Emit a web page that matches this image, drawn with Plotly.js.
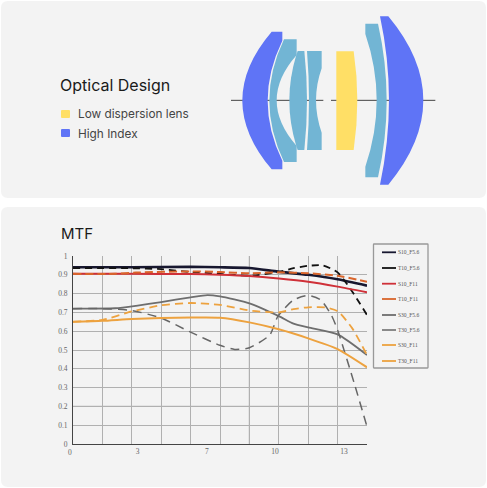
<!DOCTYPE html>
<html><head><meta charset="utf-8">
<script src="https://cdn.plot.ly/plotly-3.0.1.min.js"></script>
<style>html,body{margin:0;padding:0;background:#fff}#c{width:487px;height:488px}</style>
</head><body><div id="c"></div>
<script>
const seriesNames = ["S10_F5.6","T10_F5.6","S10_F11","T10_F11","S30_F5.6","T30_F5.6","S30_F11","T30_F11"];
const seriesColors = ["#17172f","#111111","#cf3038","#d9652b","#6e6e6e","#666666","#eda23f","#eda23f"];
const seriesWidths = [2.6,1.8,2,2,1.8,1.5,2,1.8];
const seriesDash = ["solid","7px,5px","solid","8px,4px","solid","9px,6px","solid","8px,5px"];

const s10f56x = [0,2.8,5.6,7,8.4,9.76,11.2,12.6,14];
const s10f56y = [0.94,0.94,0.942,0.94,0.936,0.917,0.90,0.876,0.842];
const t10f56x = [0,2.8,4.2,5.6,7,8.4,9.8,10.5,11.2,11.9,12.6,13.3,14];
const t10f56y = [0.935,0.935,0.93,0.915,0.905,0.895,0.915,0.935,0.948,0.95,0.913,0.81,0.686];
const s10f11x = [0,2.8,5.6,7,8.4,9.8,11.2,12.6,14];
const s10f11y = [0.905,0.905,0.904,0.90,0.893,0.88,0.863,0.837,0.807];
const t10f11x = [0,2,3,5.6,7,8.4,9.8,11.2,12.6,14];
const t10f11y = [0.905,0.905,0.912,0.918,0.915,0.908,0.913,0.908,0.895,0.863];
const s30f56x = [0,2,3,4.2,5.6,6.4,7,8.4,9.8,10.5,11.2,12.6,14];
const s30f56y = [0.72,0.722,0.735,0.755,0.78,0.792,0.785,0.748,0.68,0.64,0.62,0.583,0.473];
const t30f56x = [0,1.4,2.8,4.2,5.6,7,7.7,8.4,9.37,9.76,10.5,11.2,11.8,12.3,12.6,13.4,14];
const t30f56y = [0.72,0.72,0.71,0.67,0.595,0.525,0.503,0.512,0.58,0.68,0.766,0.79,0.766,0.686,0.606,0.32,0.092];
const s30f11x = [0,1.4,2.8,4.2,5.6,7,8.4,9.8,11.2,12.6,14];
const s30f11y = [0.65,0.655,0.665,0.67,0.673,0.672,0.647,0.61,0.562,0.505,0.408];
const t30f11x = [0,1.4,2.8,4.2,5.6,7,8.4,9.8,10.5,11.2,12,12.6,13.3,14];
const t30f11y = [0.65,0.66,0.705,0.738,0.75,0.74,0.71,0.70,0.718,0.727,0.727,0.707,0.615,0.473];

const yTicks = [0,0.1,0.2,0.3,0.4,0.5,0.6,0.7,0.8,0.9,1];
const xGrid = [0,1.4,2.8,4.2,5.6,7,8.4,9.8,11.2,12.6,14];
const xLabelPos = [3.08,6.38,9.62,12.9];
const xLabelText = ["3","7","10","13"];
const W = 487, H = 488;

const xs = [s10f56x,t10f56x,s10f11x,t10f11x,s30f56x,t30f56x,s30f11x,t30f11x];
const ys = [s10f56y,t10f56y,s10f11y,t10f11y,s30f56y,t30f56y,s30f11y,t30f11y];
const traces = seriesNames.map((n,i)=>({
  x:xs[i], y:ys[i], name:n, type:'scatter', mode:'lines', showlegend:false, hoverinfo:'skip',
  line:{color:seriesColors[i],width:seriesWidths[i],dash:seriesDash[i],shape:'spline',smoothing:0.6}
}));

const px = s => s.replace(/(-?[\d.]+),(-?[\d.]+)/g,(m,a,b)=>(a/W)+','+(1-b/H));
const zp = s => px(s.replace(/(-?[\d.]+),(-?[\d.]+)/g,(m,a,b)=>(220+a/3)+','+(10+b/3)));
const rr = (x0,y0,x1,y1,r)=>`M${x0+r},${y0} L${x1-r},${y0} Q${x1},${y0} ${x1},${y0+r} L${x1},${y1-r} Q${x1},${y1} ${x1-r},${y1} L${x0+r},${y1} Q${x0},${y1} ${x0},${y1-r} L${x0},${y0+r} Q${x0},${y0} ${x0+r},${y0} Z`;
const shapeP = (path,fill,lc,lw)=>({type:'path',xref:'paper',yref:'paper',layer:'below',path,fillcolor:fill,line:{color:lc||fill,width:lw==null?0:lw}});
const BLUE='#5f74f6', LIGHT='#72b5d4', YEL='#ffdf66', PANEL='#f3f3f3';
const lenses = [
 ["M155,65 L187,65 L187,92 Q99,272 187,452 L187,478 L155,478 Q-21,271 155,65 Z",BLUE],
 ["M192,88 L230,88 L230,135 Q110,271 230,408 L230,456 L192,456 Q104,272 192,88 Z",LIGHT],
 ["M233,123 L253,123 Q269,271 253,420 L233,420 L228,405 Q188,271 228,138 Z",LIGHT],
 ["M261,123 L305,123 L305,175 Q271,271 305,368 L305,420 L261,420 Q273,271 261,123 Z",LIGHT],
 ["M349,124 L401,124 Q423,271 401,420 L349,420 Z",YEL],
 ["M436,41 L474,41 Q526,271 474,502 L436,502 L436,470 Q504,271 436,72 Z",LIGHT],
 ["M480,19 L505,19 Q715,271 505,524 L480,524 Q534,271 480,19 Z",BLUE]
];
const shapes = [
 shapeP(px(rr(1,1,486,198,7)),PANEL),
 shapeP(px(rr(1,207,486,487,7)),PANEL),
 shapeP(px(rr(61,110,70,118,1)),YEL),
 shapeP(px(rr(61,129,70,137,1)),BLUE),
 shapeP(zp("M33,271 L310,271"),'rgba(0,0,0,0)','#444',1),
 shapeP(zp("M333,271 L646,271"),'rgba(0,0,0,0)','#444',1),
 ...lenses.map(l=>shapeP(zp(l[0]),l[1])),
 {type:'line',xref:'x',yref:'y',x0:8.4,x1:8.4,y0:0,y1:1,layer:'below',line:{color:'#666',width:1}},
 {type:'line',xref:'x',yref:'y',x0:0,x1:14,y0:0.2,y1:0.2,layer:'below',line:{color:'#666',width:1}},
 shapeP(px(rr(373.5,244,428,368,0.5)),PANEL,'#999',1.3)
];
const legendY=[252.3,268,283.7,299,315,330,345,361];
const annotations=[];
const txt=(x,y,t,size,color,family)=>({xref:'paper',yref:'paper',x:x/W,y:1-y/H,text:t,showarrow:false,xanchor:'left',yanchor:'middle',align:'left',font:{size,color,family},borderpad:0});
const SANS='Inter, "Noto Sans", sans-serif', SERIF='"Liberation Serif", serif';
annotations.push(txt(59,85,'Optical Design',16,'#1a1a1a',SANS));
annotations.push(txt(77,114.5,'Low dispersion lens',11.8,'#444',SANS));
annotations.push(txt(77,134,'High Index',11.8,'#444',SANS));
annotations.push(txt(60,233,'MTF',15,'#1a1a1a',SANS));
annotations.push(txt(67,452,'0',7.5,'#666',SERIF));
seriesNames.forEach((n,i)=>{
  shapes.push({type:'line',xref:'paper',yref:'paper',x0:382/W,x1:396/W,y0:1-legendY[i]/H,y1:1-legendY[i]/H,
    line:{color:seriesColors[i],width:Math.min(seriesWidths[i],1.8)}});
  annotations.push(txt(397,legendY[i],n,5.5,'#555',SERIF));
});
const layout={
 width:W,height:H,margin:{l:0,r:0,t:0,b:0},paper_bgcolor:'#fff',plot_bgcolor:'rgba(0,0,0,0)',showlegend:false,
 font:{family:SERIF,size:7.5,color:'#666'},
 xaxis:{domain:[73/W,367/W],range:[0,14],tickmode:'array',tickvals:xLabelPos,ticktext:xLabelText,showgrid:false,zeroline:false,
   showline:true,linecolor:'#444',linewidth:1,ticks:'',tickfont:{size:7.5,color:'#666',family:SERIF},
   minor:{tickmode:'array',tickvals:xGrid,showgrid:true,gridcolor:'#b0b0b0',gridwidth:1,ticks:''}},
 yaxis:{domain:[1-444/H,1-256/H],range:[0,1],tickmode:'array',tickvals:yTicks,ticktext:yTicks.map(String),showgrid:true,gridcolor:'#b0b0b0',gridwidth:1,
   zeroline:false,showline:true,linecolor:'#444',linewidth:1,ticks:'outside',ticklen:3,tickcolor:'rgba(0,0,0,0)',tickfont:{size:7.5,color:'#666',family:SERIF}},
 shapes,annotations
};
Plotly.newPlot('c',traces,layout,{staticPlot:true,displayModeBar:false});
</script></body></html>
